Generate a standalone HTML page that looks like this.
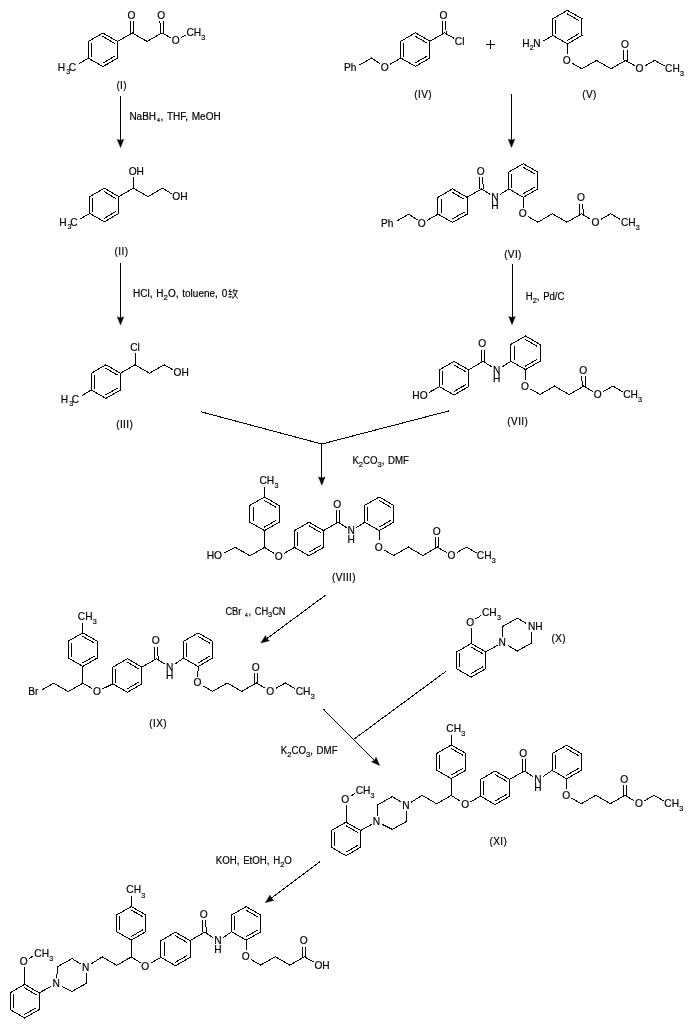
<!DOCTYPE html>
<html><head><meta charset="utf-8"><title>Scheme</title>
<style>
html,body{margin:0;padding:0;background:#fff;}
svg{display:block;}
text{font-family:"Liberation Sans",sans-serif;fill:#000;stroke:#000;stroke-width:0.18px;}
</style></head><body>
<div style="will-change:transform;width:689px;height:1027px;background:#fff">
<svg width="689" height="1027" viewBox="0 0 689 1027">
<rect width="689" height="1027" fill="#fff"/>
<g stroke="#000" stroke-width="1" stroke-linecap="square" fill="none" shape-rendering="crispEdges">
<line x1="102.90" y1="33.00" x2="117.45" y2="41.40"/>
<line x1="117.45" y1="41.40" x2="117.45" y2="58.20"/>
<line x1="117.45" y1="58.20" x2="102.90" y2="66.60"/>
<line x1="102.90" y1="66.60" x2="88.35" y2="58.20"/>
<line x1="88.35" y1="58.20" x2="88.35" y2="41.40"/>
<line x1="88.35" y1="41.40" x2="102.90" y2="33.00"/>
<line x1="103.00" y1="36.63" x2="114.25" y2="43.13"/>
<line x1="114.25" y1="56.47" x2="103.00" y2="62.97"/>
<line x1="91.45" y1="56.30" x2="91.45" y2="43.30"/>
<line x1="88.35" y1="58.20" x2="79.34" y2="63.40"/>
<line x1="117.45" y1="41.40" x2="132.27" y2="33.00"/>
<line x1="130.67" y1="33.02" x2="130.35" y2="21.82"/>
<line x1="133.87" y1="32.98" x2="133.55" y2="21.78"/>
<line x1="132.27" y1="33.00" x2="147.09" y2="41.40"/>
<line x1="147.09" y1="41.40" x2="161.91" y2="33.00"/>
<line x1="160.31" y1="33.02" x2="159.99" y2="21.82"/>
<line x1="163.51" y1="32.98" x2="163.19" y2="21.78"/>
<line x1="161.91" y1="33.00" x2="170.39" y2="37.57"/>
<line x1="181.58" y1="37.41" x2="185.53" y2="35.14"/>
<line x1="104.30" y1="188.20" x2="118.85" y2="196.60"/>
<line x1="118.85" y1="196.60" x2="118.85" y2="213.40"/>
<line x1="118.85" y1="213.40" x2="104.30" y2="221.80"/>
<line x1="104.30" y1="221.80" x2="89.75" y2="213.40"/>
<line x1="89.75" y1="213.40" x2="89.75" y2="196.60"/>
<line x1="89.75" y1="196.60" x2="104.30" y2="188.20"/>
<line x1="104.40" y1="191.83" x2="115.65" y2="198.33"/>
<line x1="115.65" y1="211.67" x2="104.40" y2="218.17"/>
<line x1="92.85" y1="211.50" x2="92.85" y2="198.50"/>
<line x1="89.75" y1="213.40" x2="80.74" y2="218.60"/>
<line x1="118.85" y1="196.60" x2="133.40" y2="188.20"/>
<line x1="133.40" y1="188.20" x2="133.09" y2="177.60"/>
<line x1="133.40" y1="188.20" x2="147.95" y2="196.60"/>
<line x1="147.95" y1="196.60" x2="162.50" y2="188.20"/>
<line x1="162.50" y1="188.20" x2="171.09" y2="193.46"/>
<line x1="105.90" y1="364.80" x2="120.45" y2="373.20"/>
<line x1="120.45" y1="373.20" x2="120.45" y2="390.00"/>
<line x1="120.45" y1="390.00" x2="105.90" y2="398.40"/>
<line x1="105.90" y1="398.40" x2="91.35" y2="390.00"/>
<line x1="91.35" y1="390.00" x2="91.35" y2="373.20"/>
<line x1="91.35" y1="373.20" x2="105.90" y2="364.80"/>
<line x1="106.00" y1="368.43" x2="117.25" y2="374.93"/>
<line x1="117.25" y1="388.27" x2="106.00" y2="394.77"/>
<line x1="94.45" y1="388.10" x2="94.45" y2="375.10"/>
<line x1="91.35" y1="390.00" x2="82.34" y2="395.20"/>
<line x1="120.45" y1="373.20" x2="135.00" y2="364.80"/>
<line x1="135.00" y1="364.80" x2="135.00" y2="353.80"/>
<line x1="135.00" y1="364.80" x2="149.55" y2="373.20"/>
<line x1="149.55" y1="373.20" x2="164.10" y2="364.80"/>
<line x1="164.10" y1="364.80" x2="172.19" y2="369.42"/>
<line x1="415.40" y1="32.80" x2="429.95" y2="41.20"/>
<line x1="429.95" y1="41.20" x2="429.95" y2="58.00"/>
<line x1="429.95" y1="58.00" x2="415.40" y2="66.40"/>
<line x1="415.40" y1="66.40" x2="400.85" y2="58.00"/>
<line x1="400.85" y1="58.00" x2="400.85" y2="41.20"/>
<line x1="400.85" y1="41.20" x2="415.40" y2="32.80"/>
<line x1="415.50" y1="36.43" x2="426.75" y2="42.93"/>
<line x1="426.75" y1="56.27" x2="415.50" y2="62.77"/>
<line x1="403.95" y1="56.10" x2="403.95" y2="43.10"/>
<line x1="429.95" y1="41.20" x2="444.50" y2="32.80"/>
<line x1="442.90" y1="32.84" x2="442.45" y2="21.63"/>
<line x1="446.10" y1="32.76" x2="445.65" y2="21.56"/>
<line x1="444.50" y1="32.80" x2="453.51" y2="38.00"/>
<line x1="400.85" y1="58.00" x2="390.54" y2="63.99"/>
<line x1="379.74" y1="63.55" x2="371.75" y2="58.00"/>
<line x1="371.75" y1="58.00" x2="359.80" y2="64.90"/>
<line x1="486.50" y1="44.00" x2="494.50" y2="44.00"/>
<line x1="490.50" y1="40.00" x2="490.50" y2="48.00"/>
<line x1="567.40" y1="10.30" x2="581.95" y2="18.70"/>
<line x1="581.95" y1="18.70" x2="581.95" y2="35.50"/>
<line x1="581.95" y1="35.50" x2="567.40" y2="43.90"/>
<line x1="567.40" y1="43.90" x2="552.85" y2="35.50"/>
<line x1="552.85" y1="35.50" x2="552.85" y2="18.70"/>
<line x1="552.85" y1="18.70" x2="567.40" y2="10.30"/>
<line x1="567.50" y1="13.93" x2="578.75" y2="20.43"/>
<line x1="578.75" y1="33.77" x2="567.50" y2="40.27"/>
<line x1="555.95" y1="33.60" x2="555.95" y2="20.60"/>
<line x1="567.40" y1="43.90" x2="567.22" y2="54.00"/>
<line x1="572.67" y1="63.55" x2="581.95" y2="68.80"/>
<line x1="581.95" y1="68.80" x2="596.50" y2="60.40"/>
<line x1="596.50" y1="60.40" x2="611.05" y2="68.80"/>
<line x1="611.05" y1="68.80" x2="625.60" y2="60.40"/>
<line x1="624.00" y1="60.40" x2="623.82" y2="51.00"/>
<line x1="627.20" y1="60.40" x2="627.02" y2="51.00"/>
<line x1="625.60" y1="60.40" x2="634.34" y2="65.55"/>
<line x1="645.42" y1="65.65" x2="654.70" y2="60.40"/>
<line x1="654.70" y1="60.40" x2="664.14" y2="65.85"/>
<line x1="552.85" y1="35.50" x2="543.84" y2="40.70"/>
<line x1="452.50" y1="188.90" x2="467.05" y2="197.30"/>
<line x1="467.05" y1="197.30" x2="467.05" y2="214.10"/>
<line x1="467.05" y1="214.10" x2="452.50" y2="222.50"/>
<line x1="452.50" y1="222.50" x2="437.95" y2="214.10"/>
<line x1="437.95" y1="214.10" x2="437.95" y2="197.30"/>
<line x1="437.95" y1="197.30" x2="452.50" y2="188.90"/>
<line x1="452.60" y1="192.53" x2="463.85" y2="199.03"/>
<line x1="463.85" y1="212.37" x2="452.60" y2="218.87"/>
<line x1="441.05" y1="212.20" x2="441.05" y2="199.20"/>
<line x1="523.30" y1="163.70" x2="537.85" y2="172.10"/>
<line x1="537.85" y1="172.10" x2="537.85" y2="188.90"/>
<line x1="537.85" y1="188.90" x2="523.30" y2="197.30"/>
<line x1="523.30" y1="197.30" x2="508.75" y2="188.90"/>
<line x1="508.75" y1="188.90" x2="508.75" y2="172.10"/>
<line x1="508.75" y1="172.10" x2="523.30" y2="163.70"/>
<line x1="523.40" y1="167.33" x2="534.65" y2="173.83"/>
<line x1="534.65" y1="187.17" x2="523.40" y2="193.67"/>
<line x1="511.85" y1="187.00" x2="511.85" y2="174.00"/>
<line x1="523.30" y1="197.30" x2="523.12" y2="207.40"/>
<line x1="528.57" y1="216.95" x2="537.85" y2="222.20"/>
<line x1="537.85" y1="222.20" x2="552.40" y2="213.80"/>
<line x1="552.40" y1="213.80" x2="566.95" y2="222.20"/>
<line x1="566.95" y1="222.20" x2="581.50" y2="213.80"/>
<line x1="579.90" y1="213.80" x2="579.72" y2="204.40"/>
<line x1="583.10" y1="213.80" x2="582.92" y2="204.40"/>
<line x1="581.50" y1="213.80" x2="590.24" y2="218.95"/>
<line x1="601.32" y1="219.05" x2="610.60" y2="213.80"/>
<line x1="610.60" y1="213.80" x2="620.04" y2="219.25"/>
<line x1="467.05" y1="197.30" x2="481.60" y2="188.90"/>
<line x1="480.00" y1="188.93" x2="479.62" y2="177.62"/>
<line x1="483.20" y1="188.87" x2="482.82" y2="177.57"/>
<line x1="481.60" y1="188.90" x2="489.79" y2="194.15"/>
<line x1="500.56" y1="194.15" x2="508.75" y2="188.90"/>
<line x1="437.95" y1="214.10" x2="427.64" y2="220.09"/>
<line x1="416.84" y1="219.65" x2="408.85" y2="214.10"/>
<line x1="408.85" y1="214.10" x2="396.90" y2="221.00"/>
<line x1="454.00" y1="361.40" x2="468.55" y2="369.80"/>
<line x1="468.55" y1="369.80" x2="468.55" y2="386.60"/>
<line x1="468.55" y1="386.60" x2="454.00" y2="395.00"/>
<line x1="454.00" y1="395.00" x2="439.45" y2="386.60"/>
<line x1="439.45" y1="386.60" x2="439.45" y2="369.80"/>
<line x1="439.45" y1="369.80" x2="454.00" y2="361.40"/>
<line x1="454.10" y1="365.03" x2="465.35" y2="371.53"/>
<line x1="465.35" y1="384.87" x2="454.10" y2="391.37"/>
<line x1="442.55" y1="384.70" x2="442.55" y2="371.70"/>
<line x1="525.50" y1="336.00" x2="540.05" y2="344.40"/>
<line x1="540.05" y1="344.40" x2="540.05" y2="361.20"/>
<line x1="540.05" y1="361.20" x2="525.50" y2="369.60"/>
<line x1="525.50" y1="369.60" x2="510.95" y2="361.20"/>
<line x1="510.95" y1="361.20" x2="510.95" y2="344.40"/>
<line x1="510.95" y1="344.40" x2="525.50" y2="336.00"/>
<line x1="525.60" y1="339.63" x2="536.85" y2="346.13"/>
<line x1="536.85" y1="359.47" x2="525.60" y2="365.97"/>
<line x1="514.05" y1="359.30" x2="514.05" y2="346.30"/>
<line x1="525.50" y1="369.60" x2="525.32" y2="379.70"/>
<line x1="530.77" y1="389.25" x2="540.05" y2="394.50"/>
<line x1="540.05" y1="394.50" x2="554.60" y2="386.10"/>
<line x1="554.60" y1="386.10" x2="569.15" y2="394.50"/>
<line x1="569.15" y1="394.50" x2="583.70" y2="386.10"/>
<line x1="582.10" y1="386.10" x2="581.92" y2="376.70"/>
<line x1="585.30" y1="386.10" x2="585.12" y2="376.70"/>
<line x1="583.70" y1="386.10" x2="592.44" y2="391.25"/>
<line x1="603.52" y1="391.35" x2="612.80" y2="386.10"/>
<line x1="612.80" y1="386.10" x2="622.24" y2="391.55"/>
<line x1="468.55" y1="369.80" x2="483.10" y2="361.40"/>
<line x1="481.50" y1="361.43" x2="481.12" y2="350.12"/>
<line x1="484.70" y1="361.37" x2="484.32" y2="350.07"/>
<line x1="483.10" y1="361.40" x2="491.60" y2="366.71"/>
<line x1="502.42" y1="366.65" x2="510.95" y2="361.20"/>
<line x1="439.45" y1="386.60" x2="429.58" y2="392.16"/>
<line x1="264.50" y1="497.00" x2="279.05" y2="505.40"/>
<line x1="279.05" y1="505.40" x2="279.05" y2="522.20"/>
<line x1="279.05" y1="522.20" x2="264.50" y2="530.60"/>
<line x1="264.50" y1="530.60" x2="249.95" y2="522.20"/>
<line x1="249.95" y1="522.20" x2="249.95" y2="505.40"/>
<line x1="249.95" y1="505.40" x2="264.50" y2="497.00"/>
<line x1="264.60" y1="500.63" x2="275.85" y2="507.13"/>
<line x1="275.85" y1="520.47" x2="264.60" y2="526.97"/>
<line x1="253.05" y1="520.30" x2="253.05" y2="507.30"/>
<line x1="264.50" y1="497.00" x2="264.50" y2="487.40"/>
<line x1="264.50" y1="530.60" x2="264.50" y2="547.40"/>
<line x1="309.00" y1="522.20" x2="323.55" y2="530.60"/>
<line x1="323.55" y1="530.60" x2="323.55" y2="547.40"/>
<line x1="323.55" y1="547.40" x2="309.00" y2="555.80"/>
<line x1="309.00" y1="555.80" x2="294.45" y2="547.40"/>
<line x1="294.45" y1="547.40" x2="294.45" y2="530.60"/>
<line x1="294.45" y1="530.60" x2="309.00" y2="522.20"/>
<line x1="309.10" y1="525.83" x2="320.35" y2="532.33"/>
<line x1="320.35" y1="545.67" x2="309.10" y2="552.17"/>
<line x1="297.55" y1="545.50" x2="297.55" y2="532.50"/>
<line x1="264.50" y1="547.40" x2="273.56" y2="553.09"/>
<line x1="284.49" y1="553.26" x2="294.45" y2="547.40"/>
<line x1="264.50" y1="547.40" x2="249.95" y2="555.80"/>
<line x1="249.95" y1="555.80" x2="235.40" y2="547.40"/>
<line x1="235.40" y1="547.40" x2="224.09" y2="552.97"/>
<line x1="379.20" y1="497.00" x2="393.75" y2="505.40"/>
<line x1="393.75" y1="505.40" x2="393.75" y2="522.20"/>
<line x1="393.75" y1="522.20" x2="379.20" y2="530.60"/>
<line x1="379.20" y1="530.60" x2="364.65" y2="522.20"/>
<line x1="364.65" y1="522.20" x2="364.65" y2="505.40"/>
<line x1="364.65" y1="505.40" x2="379.20" y2="497.00"/>
<line x1="379.30" y1="500.63" x2="390.55" y2="507.13"/>
<line x1="390.55" y1="520.47" x2="379.30" y2="526.97"/>
<line x1="367.75" y1="520.30" x2="367.75" y2="507.30"/>
<line x1="379.20" y1="530.60" x2="379.02" y2="540.70"/>
<line x1="384.47" y1="550.25" x2="393.75" y2="555.50"/>
<line x1="393.75" y1="555.50" x2="408.30" y2="547.10"/>
<line x1="408.30" y1="547.10" x2="422.85" y2="555.50"/>
<line x1="422.85" y1="555.50" x2="437.40" y2="547.10"/>
<line x1="435.80" y1="547.10" x2="435.62" y2="537.70"/>
<line x1="439.00" y1="547.10" x2="438.82" y2="537.70"/>
<line x1="437.40" y1="547.10" x2="446.14" y2="552.25"/>
<line x1="457.22" y1="552.35" x2="466.50" y2="547.10"/>
<line x1="466.50" y1="547.10" x2="475.94" y2="552.55"/>
<line x1="323.55" y1="530.60" x2="338.10" y2="522.20"/>
<line x1="336.50" y1="522.23" x2="336.12" y2="510.92"/>
<line x1="339.70" y1="522.17" x2="339.32" y2="510.87"/>
<line x1="338.10" y1="522.20" x2="346.02" y2="527.39"/>
<line x1="356.73" y1="527.39" x2="364.65" y2="522.20"/>
<line x1="82.80" y1="632.80" x2="97.35" y2="641.20"/>
<line x1="97.35" y1="641.20" x2="97.35" y2="658.00"/>
<line x1="97.35" y1="658.00" x2="82.80" y2="666.40"/>
<line x1="82.80" y1="666.40" x2="68.25" y2="658.00"/>
<line x1="68.25" y1="658.00" x2="68.25" y2="641.20"/>
<line x1="68.25" y1="641.20" x2="82.80" y2="632.80"/>
<line x1="82.90" y1="636.43" x2="94.15" y2="642.93"/>
<line x1="94.15" y1="656.27" x2="82.90" y2="662.77"/>
<line x1="71.35" y1="656.10" x2="71.35" y2="643.10"/>
<line x1="82.80" y1="632.80" x2="82.80" y2="623.20"/>
<line x1="82.80" y1="666.40" x2="82.80" y2="683.20"/>
<line x1="127.40" y1="658.70" x2="141.95" y2="667.10"/>
<line x1="141.95" y1="667.10" x2="141.95" y2="683.90"/>
<line x1="141.95" y1="683.90" x2="127.40" y2="692.30"/>
<line x1="127.40" y1="692.30" x2="112.85" y2="683.90"/>
<line x1="112.85" y1="683.90" x2="112.85" y2="667.10"/>
<line x1="112.85" y1="667.10" x2="127.40" y2="658.70"/>
<line x1="127.50" y1="662.33" x2="138.75" y2="668.83"/>
<line x1="138.75" y1="682.17" x2="127.50" y2="688.67"/>
<line x1="115.95" y1="682.00" x2="115.95" y2="669.00"/>
<line x1="82.80" y1="683.20" x2="91.75" y2="688.25"/>
<line x1="103.09" y1="688.62" x2="112.85" y2="683.90"/>
<line x1="82.80" y1="683.20" x2="68.25" y2="691.60"/>
<line x1="68.25" y1="691.60" x2="53.70" y2="683.20"/>
<line x1="53.70" y1="683.20" x2="42.27" y2="689.80"/>
<line x1="198.10" y1="632.90" x2="212.65" y2="641.30"/>
<line x1="212.65" y1="641.30" x2="212.65" y2="658.10"/>
<line x1="212.65" y1="658.10" x2="198.10" y2="666.50"/>
<line x1="198.10" y1="666.50" x2="183.55" y2="658.10"/>
<line x1="183.55" y1="658.10" x2="183.55" y2="641.30"/>
<line x1="183.55" y1="641.30" x2="198.10" y2="632.90"/>
<line x1="198.20" y1="636.53" x2="209.45" y2="643.03"/>
<line x1="209.45" y1="656.37" x2="198.20" y2="662.87"/>
<line x1="186.65" y1="656.20" x2="186.65" y2="643.20"/>
<line x1="198.10" y1="666.50" x2="197.92" y2="676.60"/>
<line x1="203.37" y1="686.15" x2="212.65" y2="691.40"/>
<line x1="212.65" y1="691.40" x2="227.20" y2="683.00"/>
<line x1="227.20" y1="683.00" x2="241.75" y2="691.40"/>
<line x1="241.75" y1="691.40" x2="256.30" y2="683.00"/>
<line x1="254.70" y1="683.00" x2="254.52" y2="673.60"/>
<line x1="257.90" y1="683.00" x2="257.72" y2="673.60"/>
<line x1="256.30" y1="683.00" x2="265.04" y2="688.15"/>
<line x1="276.12" y1="688.25" x2="285.40" y2="683.00"/>
<line x1="285.40" y1="683.00" x2="294.84" y2="688.45"/>
<line x1="141.95" y1="667.10" x2="156.50" y2="658.70"/>
<line x1="154.90" y1="658.73" x2="154.52" y2="647.42"/>
<line x1="158.10" y1="658.67" x2="157.72" y2="647.37"/>
<line x1="156.50" y1="658.70" x2="164.64" y2="663.94"/>
<line x1="175.30" y1="663.77" x2="183.55" y2="658.10"/>
<line x1="471.20" y1="643.50" x2="485.75" y2="651.90"/>
<line x1="485.75" y1="651.90" x2="485.75" y2="668.70"/>
<line x1="485.75" y1="668.70" x2="471.20" y2="677.10"/>
<line x1="471.20" y1="677.10" x2="456.65" y2="668.70"/>
<line x1="456.65" y1="668.70" x2="456.65" y2="651.90"/>
<line x1="456.65" y1="651.90" x2="471.20" y2="643.50"/>
<line x1="471.30" y1="647.13" x2="482.55" y2="653.63"/>
<line x1="482.55" y1="666.97" x2="471.30" y2="673.47"/>
<line x1="459.75" y1="666.80" x2="459.75" y2="653.80"/>
<line x1="471.20" y1="643.50" x2="471.20" y2="628.50"/>
<line x1="476.17" y1="618.66" x2="480.91" y2="615.56"/>
<line x1="485.75" y1="651.90" x2="497.01" y2="645.62"/>
<line x1="502.64" y1="636.10" x2="502.70" y2="626.40"/>
<line x1="502.70" y1="626.40" x2="517.30" y2="618.20"/>
<line x1="517.30" y1="618.20" x2="525.96" y2="623.20"/>
<line x1="531.66" y1="632.80" x2="531.90" y2="642.80"/>
<line x1="531.90" y1="642.80" x2="517.30" y2="651.00"/>
<line x1="517.30" y1="651.00" x2="508.14" y2="645.70"/>
<line x1="346.00" y1="822.10" x2="360.55" y2="830.50"/>
<line x1="360.55" y1="830.50" x2="360.55" y2="847.30"/>
<line x1="360.55" y1="847.30" x2="346.00" y2="855.70"/>
<line x1="346.00" y1="855.70" x2="331.45" y2="847.30"/>
<line x1="331.45" y1="847.30" x2="331.45" y2="830.50"/>
<line x1="331.45" y1="830.50" x2="346.00" y2="822.10"/>
<line x1="346.10" y1="825.73" x2="357.35" y2="832.23"/>
<line x1="357.35" y1="845.57" x2="346.10" y2="852.07"/>
<line x1="334.55" y1="845.40" x2="334.55" y2="832.40"/>
<line x1="346.00" y1="822.10" x2="346.00" y2="805.60"/>
<line x1="351.08" y1="795.92" x2="354.52" y2="793.82"/>
<line x1="360.55" y1="830.50" x2="371.19" y2="824.67"/>
<line x1="377.14" y1="815.21" x2="377.70" y2="804.80"/>
<line x1="377.70" y1="804.80" x2="392.30" y2="796.60"/>
<line x1="392.30" y1="796.60" x2="400.76" y2="801.83"/>
<line x1="406.48" y1="811.59" x2="406.90" y2="821.20"/>
<line x1="406.90" y1="821.20" x2="392.30" y2="829.40"/>
<line x1="392.30" y1="829.40" x2="382.52" y2="824.48"/>
<line x1="451.30" y1="745.00" x2="465.85" y2="753.40"/>
<line x1="465.85" y1="753.40" x2="465.85" y2="770.20"/>
<line x1="465.85" y1="770.20" x2="451.30" y2="778.60"/>
<line x1="451.30" y1="778.60" x2="436.75" y2="770.20"/>
<line x1="436.75" y1="770.20" x2="436.75" y2="753.40"/>
<line x1="436.75" y1="753.40" x2="451.30" y2="745.00"/>
<line x1="451.40" y1="748.63" x2="462.65" y2="755.13"/>
<line x1="462.65" y1="768.47" x2="451.40" y2="774.97"/>
<line x1="439.85" y1="768.30" x2="439.85" y2="755.30"/>
<line x1="451.30" y1="745.00" x2="451.30" y2="735.40"/>
<line x1="451.30" y1="778.60" x2="451.30" y2="795.40"/>
<line x1="495.10" y1="771.00" x2="509.65" y2="779.40"/>
<line x1="509.65" y1="779.40" x2="509.65" y2="796.20"/>
<line x1="509.65" y1="796.20" x2="495.10" y2="804.60"/>
<line x1="495.10" y1="804.60" x2="480.55" y2="796.20"/>
<line x1="480.55" y1="796.20" x2="480.55" y2="779.40"/>
<line x1="480.55" y1="779.40" x2="495.10" y2="771.00"/>
<line x1="495.20" y1="774.63" x2="506.45" y2="781.13"/>
<line x1="506.45" y1="794.47" x2="495.20" y2="800.97"/>
<line x1="483.65" y1="794.30" x2="483.65" y2="781.30"/>
<line x1="451.30" y1="795.40" x2="460.06" y2="801.11"/>
<line x1="471.02" y1="801.49" x2="480.55" y2="796.20"/>
<line x1="451.30" y1="795.40" x2="436.75" y2="803.80"/>
<line x1="436.75" y1="803.80" x2="422.20" y2="795.40"/>
<line x1="422.20" y1="795.40" x2="411.66" y2="801.86"/>
<line x1="566.70" y1="745.20" x2="581.25" y2="753.60"/>
<line x1="581.25" y1="753.60" x2="581.25" y2="770.40"/>
<line x1="581.25" y1="770.40" x2="566.70" y2="778.80"/>
<line x1="566.70" y1="778.80" x2="552.15" y2="770.40"/>
<line x1="552.15" y1="770.40" x2="552.15" y2="753.60"/>
<line x1="552.15" y1="753.60" x2="566.70" y2="745.20"/>
<line x1="566.80" y1="748.83" x2="578.05" y2="755.33"/>
<line x1="578.05" y1="768.67" x2="566.80" y2="775.17"/>
<line x1="555.25" y1="768.50" x2="555.25" y2="755.50"/>
<line x1="566.70" y1="778.80" x2="566.52" y2="788.90"/>
<line x1="571.97" y1="798.45" x2="581.25" y2="803.70"/>
<line x1="581.25" y1="803.70" x2="595.80" y2="795.30"/>
<line x1="595.80" y1="795.30" x2="610.35" y2="803.70"/>
<line x1="610.35" y1="803.70" x2="624.90" y2="795.30"/>
<line x1="623.30" y1="795.30" x2="623.12" y2="785.90"/>
<line x1="626.50" y1="795.30" x2="626.32" y2="785.90"/>
<line x1="624.90" y1="795.30" x2="633.64" y2="800.45"/>
<line x1="644.72" y1="800.55" x2="654.00" y2="795.30"/>
<line x1="654.00" y1="795.30" x2="663.44" y2="800.75"/>
<line x1="509.65" y1="779.40" x2="524.20" y2="771.00"/>
<line x1="522.60" y1="771.03" x2="522.22" y2="759.72"/>
<line x1="525.80" y1="770.97" x2="525.42" y2="759.67"/>
<line x1="524.20" y1="771.00" x2="532.74" y2="776.32"/>
<line x1="543.50" y1="776.15" x2="552.15" y2="770.40"/>
<line x1="24.60" y1="984.40" x2="39.15" y2="992.80"/>
<line x1="39.15" y1="992.80" x2="39.15" y2="1009.60"/>
<line x1="39.15" y1="1009.60" x2="24.60" y2="1018.00"/>
<line x1="24.60" y1="1018.00" x2="10.05" y2="1009.60"/>
<line x1="10.05" y1="1009.60" x2="10.05" y2="992.80"/>
<line x1="10.05" y1="992.80" x2="24.60" y2="984.40"/>
<line x1="24.70" y1="988.03" x2="35.95" y2="994.53"/>
<line x1="35.95" y1="1007.87" x2="24.70" y2="1014.37"/>
<line x1="13.15" y1="1007.70" x2="13.15" y2="994.70"/>
<line x1="24.60" y1="984.40" x2="24.60" y2="967.90"/>
<line x1="29.68" y1="958.22" x2="33.12" y2="956.12"/>
<line x1="39.15" y1="992.80" x2="50.85" y2="986.60"/>
<line x1="56.84" y1="977.21" x2="57.40" y2="966.80"/>
<line x1="57.40" y1="966.80" x2="72.00" y2="958.60"/>
<line x1="72.00" y1="958.60" x2="80.46" y2="963.83"/>
<line x1="86.18" y1="973.59" x2="86.60" y2="983.20"/>
<line x1="86.60" y1="983.20" x2="72.00" y2="991.40"/>
<line x1="72.00" y1="991.40" x2="62.22" y2="986.48"/>
<line x1="131.30" y1="906.50" x2="145.85" y2="914.90"/>
<line x1="145.85" y1="914.90" x2="145.85" y2="931.70"/>
<line x1="145.85" y1="931.70" x2="131.30" y2="940.10"/>
<line x1="131.30" y1="940.10" x2="116.75" y2="931.70"/>
<line x1="116.75" y1="931.70" x2="116.75" y2="914.90"/>
<line x1="116.75" y1="914.90" x2="131.30" y2="906.50"/>
<line x1="131.40" y1="910.13" x2="142.65" y2="916.63"/>
<line x1="142.65" y1="929.97" x2="131.40" y2="936.47"/>
<line x1="119.85" y1="929.80" x2="119.85" y2="916.80"/>
<line x1="131.30" y1="906.50" x2="131.30" y2="896.90"/>
<line x1="131.30" y1="940.10" x2="131.30" y2="956.90"/>
<line x1="175.50" y1="932.20" x2="190.05" y2="940.60"/>
<line x1="190.05" y1="940.60" x2="190.05" y2="957.40"/>
<line x1="190.05" y1="957.40" x2="175.50" y2="965.80"/>
<line x1="175.50" y1="965.80" x2="160.95" y2="957.40"/>
<line x1="160.95" y1="957.40" x2="160.95" y2="940.60"/>
<line x1="160.95" y1="940.60" x2="175.50" y2="932.20"/>
<line x1="175.60" y1="935.83" x2="186.85" y2="942.33"/>
<line x1="186.85" y1="955.67" x2="175.60" y2="962.17"/>
<line x1="164.05" y1="955.50" x2="164.05" y2="942.50"/>
<line x1="131.30" y1="956.90" x2="140.24" y2="962.64"/>
<line x1="151.19" y1="962.94" x2="160.95" y2="957.40"/>
<line x1="131.30" y1="956.90" x2="116.75" y2="965.30"/>
<line x1="116.75" y1="965.30" x2="102.20" y2="956.90"/>
<line x1="102.20" y1="956.90" x2="91.31" y2="963.78"/>
<line x1="246.20" y1="906.60" x2="260.75" y2="915.00"/>
<line x1="260.75" y1="915.00" x2="260.75" y2="931.80"/>
<line x1="260.75" y1="931.80" x2="246.20" y2="940.20"/>
<line x1="246.20" y1="940.20" x2="231.65" y2="931.80"/>
<line x1="231.65" y1="931.80" x2="231.65" y2="915.00"/>
<line x1="231.65" y1="915.00" x2="246.20" y2="906.60"/>
<line x1="246.30" y1="910.23" x2="257.55" y2="916.73"/>
<line x1="257.55" y1="930.07" x2="246.30" y2="936.57"/>
<line x1="234.75" y1="929.90" x2="234.75" y2="916.90"/>
<line x1="246.20" y1="940.20" x2="246.02" y2="950.30"/>
<line x1="251.47" y1="959.85" x2="260.75" y2="965.10"/>
<line x1="260.75" y1="965.10" x2="275.30" y2="956.70"/>
<line x1="275.30" y1="956.70" x2="289.85" y2="965.10"/>
<line x1="289.85" y1="965.10" x2="304.40" y2="956.70"/>
<line x1="302.80" y1="956.70" x2="302.62" y2="947.30"/>
<line x1="306.00" y1="956.70" x2="305.82" y2="947.30"/>
<line x1="304.40" y1="956.70" x2="313.14" y2="961.85"/>
<line x1="190.05" y1="940.60" x2="204.60" y2="932.20"/>
<line x1="203.00" y1="932.23" x2="202.62" y2="920.92"/>
<line x1="206.20" y1="932.17" x2="205.82" y2="920.87"/>
<line x1="204.60" y1="932.20" x2="212.74" y2="937.44"/>
<line x1="223.43" y1="937.33" x2="231.65" y2="931.80"/>
<line x1="120.50" y1="96.00" x2="120.50" y2="145.00"/>
<line x1="120.50" y1="263.40" x2="120.50" y2="322.50"/>
<line x1="511.50" y1="94.80" x2="511.50" y2="144.80"/>
<line x1="512.00" y1="264.70" x2="512.00" y2="322.20"/>
<line x1="201.00" y1="411.80" x2="321.80" y2="444.00"/>
<line x1="448.60" y1="411.00" x2="321.80" y2="444.00"/>
<line x1="321.80" y1="444.00" x2="321.80" y2="482.60"/>
<line x1="325.50" y1="595.20" x2="262.91" y2="641.52"/>
<line x1="445.20" y1="671.90" x2="354.20" y2="739.00"/>
<line x1="323.90" y1="709.60" x2="377.78" y2="763.58"/>
<line x1="319.50" y1="862.00" x2="267.40" y2="901.10"/>
</g>
<g fill="#000" stroke="#000" stroke-width="0.4" stroke-linejoin="miter"><polygon points="120.50,147.60 117.20,139.30 120.50,140.40 123.80,139.30"/>
<polygon points="120.50,325.10 117.20,316.80 120.50,317.90 123.80,316.80"/>
<polygon points="511.50,147.40 508.20,139.10 511.50,140.20 514.80,139.10"/>
<polygon points="512.00,324.80 508.70,316.50 512.00,317.60 515.30,316.50"/>
<polygon points="321.80,485.20 318.50,476.90 321.80,478.00 325.10,476.90"/>
<polygon points="260.82,643.06 265.53,635.47 266.61,638.78 269.46,640.78"/>
<polygon points="379.62,765.42 371.42,761.87 374.53,760.32 376.09,757.21"/>
<polygon points="265.32,902.66 269.98,895.04 271.08,898.34 273.94,900.32"/></g>
<g stroke="#000" stroke-width="0.9" fill="none"><line x1="230.60" y1="288.90" x2="228.90" y2="291.50"/><line x1="228.90" y1="291.50" x2="231.60" y2="291.50"/><line x1="231.60" y1="291.50" x2="228.90" y2="294.50"/><line x1="228.90" y1="294.50" x2="232.00" y2="294.50"/><line x1="228.80" y1="297.70" x2="229.40" y2="296.10"/><line x1="230.40" y1="296.10" x2="230.40" y2="298.10"/><line x1="231.90" y1="296.10" x2="232.40" y2="297.70"/><line x1="234.20" y1="288.90" x2="232.80" y2="292.50"/><line x1="233.60" y1="290.70" x2="237.80" y2="290.70"/><line x1="233.60" y1="292.50" x2="237.60" y2="298.70"/><line x1="237.00" y1="290.90" x2="235.00" y2="295.50"/><line x1="235.00" y1="295.50" x2="232.60" y2="298.70"/></g>
<g>
<text x="72.50" y="70.75" font-size="10.2" text-anchor="middle">C</text>
<text x="68.20" y="74.15" font-size="7.2" text-anchor="middle">3</text>
<text x="65.10" y="70.75" font-size="10.2" text-anchor="end">H</text>
<text x="131.47" y="18.85" font-size="10.2" text-anchor="middle">O</text>
<text x="161.11" y="18.85" font-size="10.2" text-anchor="middle">O</text>
<text x="175.73" y="44.05" font-size="10.2" text-anchor="middle">O</text>
<text x="186.45" y="35.65" font-size="10.2" text-anchor="start">CH</text>
<text x="201.35" y="39.55" font-size="7.2" text-anchor="start">3</text>
<text x="73.90" y="225.95" font-size="10.2" text-anchor="middle">C</text>
<text x="69.60" y="229.35" font-size="7.2" text-anchor="middle">3</text>
<text x="66.50" y="225.95" font-size="10.2" text-anchor="end">H</text>
<text x="128.70" y="174.65" font-size="10.2" text-anchor="start">OH</text>
<text x="172.35" y="200.25" font-size="10.2" text-anchor="start">OH</text>
<text x="75.50" y="402.55" font-size="10.2" text-anchor="middle">C</text>
<text x="71.20" y="405.95" font-size="7.2" text-anchor="middle">3</text>
<text x="68.10" y="402.55" font-size="10.2" text-anchor="end">H</text>
<text x="130.20" y="350.85" font-size="10.2" text-anchor="start">Cl</text>
<text x="173.55" y="376.05" font-size="10.2" text-anchor="start">OH</text>
<text x="443.50" y="18.65" font-size="10.2" text-anchor="middle">O</text>
<text x="454.85" y="44.80" font-size="10.2" text-anchor="start">Cl</text>
<text x="384.70" y="70.65" font-size="10.2" text-anchor="middle">O</text>
<text x="350.20" y="70.65" font-size="10.2" text-anchor="middle">Ph</text>
<text x="566.80" y="63.85" font-size="10.2" text-anchor="middle">O</text>
<text x="625.00" y="48.05" font-size="10.2" text-anchor="middle">O</text>
<text x="639.55" y="72.25" font-size="10.2" text-anchor="middle">O</text>
<text x="665.05" y="72.25" font-size="10.2" text-anchor="start">CH</text>
<text x="679.95" y="76.15" font-size="7.2" text-anchor="start">3</text>
<text x="540.60" y="47.30" font-size="10.2" text-anchor="end">N</text>
<text x="533.70" y="50.40" font-size="7.2" text-anchor="end">2</text>
<text x="529.70" y="47.30" font-size="10.2" text-anchor="end">H</text>
<text x="522.70" y="217.25" font-size="10.2" text-anchor="middle">O</text>
<text x="580.90" y="201.45" font-size="10.2" text-anchor="middle">O</text>
<text x="595.45" y="225.65" font-size="10.2" text-anchor="middle">O</text>
<text x="620.95" y="225.65" font-size="10.2" text-anchor="start">CH</text>
<text x="635.85" y="229.55" font-size="7.2" text-anchor="start">3</text>
<text x="480.70" y="174.65" font-size="10.2" text-anchor="middle">O</text>
<text x="494.87" y="201.05" font-size="10.2" text-anchor="middle">N</text>
<text x="494.87" y="209.35" font-size="10.2" text-anchor="middle">H</text>
<text x="421.80" y="226.75" font-size="10.2" text-anchor="middle">O</text>
<text x="387.30" y="226.75" font-size="10.2" text-anchor="middle">Ph</text>
<text x="524.90" y="389.55" font-size="10.2" text-anchor="middle">O</text>
<text x="583.10" y="373.75" font-size="10.2" text-anchor="middle">O</text>
<text x="597.65" y="397.95" font-size="10.2" text-anchor="middle">O</text>
<text x="623.15" y="397.95" font-size="10.2" text-anchor="start">CH</text>
<text x="638.05" y="401.85" font-size="7.2" text-anchor="start">3</text>
<text x="482.20" y="347.15" font-size="10.2" text-anchor="middle">O</text>
<text x="496.72" y="373.55" font-size="10.2" text-anchor="middle">N</text>
<text x="496.72" y="381.85" font-size="10.2" text-anchor="middle">H</text>
<text x="427.60" y="398.75" font-size="10.2" text-anchor="end">HO</text>
<text x="259.50" y="483.85" font-size="10.2" text-anchor="start">CH</text>
<text x="274.40" y="488.15" font-size="7.2" text-anchor="start">3</text>
<text x="278.68" y="559.95" font-size="10.2" text-anchor="middle">O</text>
<text x="221.95" y="559.25" font-size="10.2" text-anchor="end">HO</text>
<text x="378.60" y="550.55" font-size="10.2" text-anchor="middle">O</text>
<text x="436.80" y="534.75" font-size="10.2" text-anchor="middle">O</text>
<text x="451.35" y="558.95" font-size="10.2" text-anchor="middle">O</text>
<text x="476.85" y="558.95" font-size="10.2" text-anchor="start">CH</text>
<text x="491.75" y="562.85" font-size="7.2" text-anchor="start">3</text>
<text x="337.20" y="507.95" font-size="10.2" text-anchor="middle">O</text>
<text x="351.07" y="534.35" font-size="10.2" text-anchor="middle">N</text>
<text x="351.07" y="542.65" font-size="10.2" text-anchor="middle">H</text>
<text x="77.80" y="619.65" font-size="10.2" text-anchor="start">CH</text>
<text x="92.70" y="623.95" font-size="7.2" text-anchor="start">3</text>
<text x="97.03" y="694.85" font-size="10.2" text-anchor="middle">O</text>
<text x="38.40" y="695.00" font-size="10.2" text-anchor="end">Br</text>
<text x="197.50" y="686.45" font-size="10.2" text-anchor="middle">O</text>
<text x="255.70" y="670.65" font-size="10.2" text-anchor="middle">O</text>
<text x="270.25" y="694.85" font-size="10.2" text-anchor="middle">O</text>
<text x="295.75" y="694.85" font-size="10.2" text-anchor="start">CH</text>
<text x="310.65" y="698.75" font-size="7.2" text-anchor="start">3</text>
<text x="155.60" y="644.45" font-size="10.2" text-anchor="middle">O</text>
<text x="169.73" y="670.85" font-size="10.2" text-anchor="middle">N</text>
<text x="169.73" y="679.15" font-size="10.2" text-anchor="middle">H</text>
<text x="470.30" y="625.55" font-size="10.2" text-anchor="middle">O</text>
<text x="482.00" y="615.95" font-size="10.2" text-anchor="start">CH</text>
<text x="496.90" y="619.85" font-size="7.2" text-anchor="start">3</text>
<text x="502.30" y="645.95" font-size="10.2" text-anchor="middle">N</text>
<text x="527.90" y="629.85" font-size="10.2" text-anchor="start">NH</text>
<text x="345.10" y="802.65" font-size="10.2" text-anchor="middle">O</text>
<text x="355.70" y="794.35" font-size="10.2" text-anchor="start">CH</text>
<text x="370.60" y="798.25" font-size="7.2" text-anchor="start">3</text>
<text x="376.50" y="825.05" font-size="10.2" text-anchor="middle">N</text>
<text x="405.90" y="808.65" font-size="10.2" text-anchor="middle">N</text>
<text x="446.30" y="731.85" font-size="10.2" text-anchor="start">CH</text>
<text x="461.20" y="736.15" font-size="7.2" text-anchor="start">3</text>
<text x="465.12" y="808.05" font-size="10.2" text-anchor="middle">O</text>
<text x="566.10" y="798.75" font-size="10.2" text-anchor="middle">O</text>
<text x="624.30" y="782.95" font-size="10.2" text-anchor="middle">O</text>
<text x="638.85" y="807.15" font-size="10.2" text-anchor="middle">O</text>
<text x="664.35" y="807.15" font-size="10.2" text-anchor="start">CH</text>
<text x="679.25" y="811.05" font-size="7.2" text-anchor="start">3</text>
<text x="523.30" y="756.75" font-size="10.2" text-anchor="middle">O</text>
<text x="537.88" y="783.15" font-size="10.2" text-anchor="middle">N</text>
<text x="537.88" y="791.45" font-size="10.2" text-anchor="middle">H</text>
<text x="23.70" y="964.95" font-size="10.2" text-anchor="middle">O</text>
<text x="34.30" y="956.65" font-size="10.2" text-anchor="start">CH</text>
<text x="49.20" y="960.55" font-size="7.2" text-anchor="start">3</text>
<text x="56.20" y="987.05" font-size="10.2" text-anchor="middle">N</text>
<text x="85.60" y="970.65" font-size="10.2" text-anchor="middle">N</text>
<text x="126.30" y="893.35" font-size="10.2" text-anchor="start">CH</text>
<text x="141.20" y="897.65" font-size="7.2" text-anchor="start">3</text>
<text x="145.33" y="969.55" font-size="10.2" text-anchor="middle">O</text>
<text x="245.60" y="960.15" font-size="10.2" text-anchor="middle">O</text>
<text x="303.80" y="944.35" font-size="10.2" text-anchor="middle">O</text>
<text x="314.45" y="968.55" font-size="10.2" text-anchor="start">OH</text>
<text x="203.70" y="917.95" font-size="10.2" text-anchor="middle">O</text>
<text x="217.83" y="944.35" font-size="10.2" text-anchor="middle">N</text>
<text x="217.83" y="952.65" font-size="10.2" text-anchor="middle">H</text>
<text x="121.70" y="89.40" font-size="10" text-anchor="middle" letter-spacing="0.4">(I)</text>
<text x="121.50" y="255.40" font-size="10" text-anchor="middle" letter-spacing="0.4">(II)</text>
<text x="124.70" y="428.40" font-size="10" text-anchor="middle" letter-spacing="0.4">(III)</text>
<text x="423.20" y="98.40" font-size="10" text-anchor="middle" letter-spacing="0.4">(IV)</text>
<text x="589.50" y="98.30" font-size="10" text-anchor="middle" letter-spacing="0.4">(V)</text>
<text x="513.00" y="258.30" font-size="10" text-anchor="middle" letter-spacing="0.4">(VI)</text>
<text x="517.80" y="424.70" font-size="10" text-anchor="middle" letter-spacing="0.4">(VII)</text>
<text x="344.00" y="581.20" font-size="10" text-anchor="middle" letter-spacing="0.4">(VIII)</text>
<text x="158.20" y="727.40" font-size="10" text-anchor="middle" letter-spacing="0.4">(IX)</text>
<text x="558.80" y="641.70" font-size="10" text-anchor="middle" letter-spacing="0.4">(X)</text>
<text x="498.30" y="845.10" font-size="10" text-anchor="middle" letter-spacing="0.4">(XI)</text>
<text x="129.40" y="119.90" font-size="10" word-spacing="1" textLength="91.30" lengthAdjust="spacingAndGlyphs">NaBH<tspan font-size="5.2" dy="1.90" dx="0.9">4</tspan><tspan dy="-1.90" dx="0.6">, THF, MeOH</tspan></text>
<text x="133.10" y="296.60" font-size="10" word-spacing="1" textLength="94.10" lengthAdjust="spacingAndGlyphs">HCl, H<tspan font-size="7.8" dy="3.10">2</tspan><tspan dy="-3.10">O, toluene, 0</tspan></text>
<text x="525.80" y="299.70" font-size="10" word-spacing="1" textLength="38.60" lengthAdjust="spacingAndGlyphs">H<tspan font-size="7.8" dy="3.10">2</tspan><tspan dy="-3.10">, Pd/C</tspan></text>
<text x="352.40" y="463.70" font-size="10" word-spacing="1" textLength="56.40" lengthAdjust="spacingAndGlyphs">K<tspan font-size="7.8" dy="3.10">2</tspan><tspan dy="-3.10">CO</tspan><tspan font-size="7.8" dy="3.10">3</tspan><tspan dy="-3.10">, DMF</tspan></text>
<text x="225.40" y="614.90" font-size="10" word-spacing="1" textLength="60.20" lengthAdjust="spacingAndGlyphs">CBr<tspan font-size="5.2" dy="1.90" dx="3.9">4</tspan><tspan dy="-1.90" dx="0.9">, CH</tspan><tspan font-size="7.8" dy="2.30">3</tspan><tspan dy="-2.30">CN</tspan></text>
<text x="280.80" y="754.00" font-size="10" word-spacing="1" textLength="56.80" lengthAdjust="spacingAndGlyphs">K<tspan font-size="7.8" dy="3.10">2</tspan><tspan dy="-3.10">CO</tspan><tspan font-size="7.8" dy="3.10">3</tspan><tspan dy="-3.10">, DMF</tspan></text>
<text x="215.80" y="864.00" font-size="10" word-spacing="1" textLength="76.10" lengthAdjust="spacingAndGlyphs">KOH, EtOH, H<tspan font-size="7.8" dy="3.10">2</tspan><tspan dy="-3.10">O</tspan></text>
</g>
</svg>
</div>
</body></html>
